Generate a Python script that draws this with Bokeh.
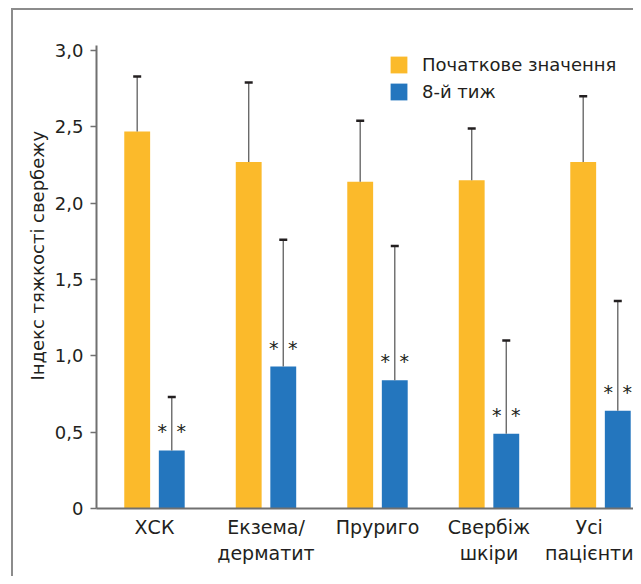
from bokeh.plotting import figure
from bokeh.models import (Range1d, FixedTicker, ColumnDataSource, Whisker, TeeHead,
                          Legend, LegendItem, Title)
from bokeh.core.properties import value
from bokeh.embed import file_html
from bokeh.resources import INLINE

# ---- data ----
categories = ["ХСК", "Екзема/\nдерматит", "Пруриго", "Свербіж\nшкіри", "Усі\nпацієнти"]
series_names = ["Початкове значення", "8-й тиж"]
baseline = [2.47, 2.27, 2.14, 2.15, 2.27]
baseline_err = [0.36, 0.52, 0.40, 0.34, 0.43]
week8 = [0.38, 0.93, 0.84, 0.49, 0.64]
week8_err = [0.35, 0.83, 0.88, 0.61, 0.72]
significance = ["*", "*", "*", "*", "*"]
y_ticks = [0, 0.5, 1.0, 1.5, 2.0, 2.5, 3.0]
y_tick_labels = ["0", "0,5", "1,0", "1,5", "2,0", "2,5", "3,0"]
y_axis_title = "Індекс тяжкості свербежу"

# ---- styles ----
FONT = "DejaVu Sans"
ORANGE = "#FBBA2B"
BLUE = "#2476BE"
TEXT = "#231F20"
AXIS = "#707070"
FRAME = "#8c8c8c"
SHIFT = 0.155
BAR_W = 0.232

n = len(categories)
centers = [i + 0.5 for i in range(n)]
src = ColumnDataSource(dict(
    xo=[c - SHIFT for c in centers],
    xb=[c + SHIFT for c in centers],
    base=baseline,
    base_up=[v + e for v, e in zip(baseline, baseline_err)],
    w8=week8,
    w8_up=[v + e for v, e in zip(week8, week8_err)],
    sig=significance,
))

p = figure(width=633, height=576, output_backend="svg", toolbar_location=None,
           x_range=Range1d(-0.02, 4.796), y_range=Range1d(0, 3.033),
           min_border_left=96, min_border_right=0, min_border_top=45,
           min_border_bottom=68, background_fill_color="white",
           border_fill_color=None)
p.styles = {
    "background-color": "white",
    "background-image": f"linear-gradient({FRAME}, {FRAME}), linear-gradient({FRAME}, {FRAME})",
    "background-size": "100% 2px, 2px 100%",
    "background-position": "11px 8px, 11px 8px",
    "background-repeat": "no-repeat",
}
p.outline_line_color = None
p.xgrid.visible = False
p.ygrid.visible = False

r1 = p.vbar(x="xo", top="base", width=BAR_W, source=src, fill_color=ORANGE, line_color=None)
r2 = p.vbar(x="xb", top="w8", width=BAR_W, source=src, fill_color=BLUE, line_color=None)

for xcol, lo, hi in (("xo", "base", "base_up"), ("xb", "w8", "w8_up")):
    w = Whisker(base=xcol, lower=lo, upper=hi, source=src, dimension="height",
                line_color="#6a6a6a", line_width=1.4, lower_head=None,
                upper_head=TeeHead(size=8, line_color=TEXT, line_width=2.5),
                level="glyph")
    p.add_layout(w)

for off in (-9.5, 9.5):
    p.text(x="xb", y="w8", text="sig", source=src, x_offset=off, y_offset=-19,
           text_align="center", text_baseline="alphabetic",
           text_font=value(FONT), text_font_size="19px", text_color=TEXT)

# axes
for ax in (p.xaxis[0], p.yaxis[0]):
    ax.axis_line_color = AXIS
    ax.axis_line_width = 2
    ax.major_label_text_font = FONT
    ax.major_label_text_color = TEXT
    ax.minor_tick_line_color = None

p.xaxis.ticker = FixedTicker(ticks=centers)
p.xaxis.major_label_overrides = {c: lab for c, lab in zip(centers, categories)}
p.xaxis.major_label_text_font_size = "19px"
p.xaxis.major_tick_line_color = None
p.xaxis.major_tick_out = 0
p.xaxis.major_label_standoff = 7

p.yaxis.ticker = FixedTicker(ticks=y_ticks)
p.yaxis.major_label_overrides = {t: lab for t, lab in zip(y_ticks, y_tick_labels)}
p.yaxis.major_label_text_font_size = "18px"
p.yaxis.major_tick_line_color = AXIS
p.yaxis.major_tick_line_width = 1.5
p.yaxis.major_tick_out = 6
p.yaxis.major_tick_in = 0
p.yaxis.major_label_standoff = 7

# y-axis title (placed along the left panel, starting above the axis bottom)
p.add_layout(Title(text=y_axis_title, align="left", offset=128,
                   text_font=FONT, text_font_size="18px", text_font_style="normal",
                   text_color=TEXT, standoff=8), "left")

# legend
legend = Legend(items=[LegendItem(label=series_names[0], renderers=[r1]),
                       LegendItem(label=series_names[1], renderers=[r2])],
                location=(292, 406), glyph_width=21, glyph_height=21,
                label_standoff=13, spacing=6, padding=0, margin=0,
                border_line_color=None, background_fill_alpha=0,
                label_text_font=FONT, label_text_font_size="18px",
                label_text_color=TEXT)
p.add_layout(legend)

open("out.html", "w").write(file_html(p, INLINE))
